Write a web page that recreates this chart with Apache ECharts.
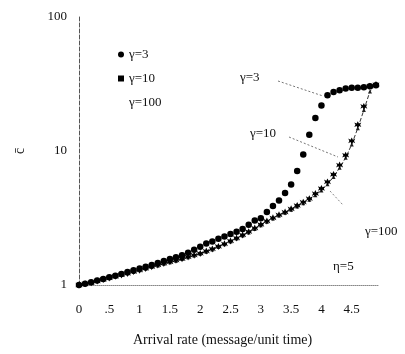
<!DOCTYPE html>
<html>
<head>
<meta charset="utf-8">
<script src="https://cdn.jsdelivr.net/npm/echarts@6/dist/echarts.min.js"></script>
<style>
  html, body { margin: 0; padding: 0; background: #fff; }
  #chart { width: 405px; height: 354px; }
</style>
</head>
<body>
<div id="chart"></div>
<script>
// arrival rate (message/unit time)
const rates = [0, 0.1, 0.2, 0.3, 0.4, 0.5, 0.6, 0.7, 0.8, 0.9,
  1.0, 1.1, 1.2, 1.3, 1.4, 1.5, 1.6, 1.7, 1.8, 1.9,
  2.0, 2.1, 2.2, 2.3, 2.4, 2.5, 2.6, 2.7, 2.8, 2.9,
  3.0, 3.1, 3.2, 3.3, 3.4, 3.5, 3.6, 3.7, 3.8, 3.9,
  4.0, 4.1, 4.2, 4.3, 4.4, 4.5, 4.6, 4.7, 4.8, 4.9];

// mean cost c̄ (log scale)
const gamma3 = [1.00, 1.02, 1.05, 1.08, 1.11, 1.14, 1.17, 1.21, 1.25, 1.29,
  1.33, 1.37, 1.41, 1.46, 1.51, 1.56, 1.61, 1.67, 1.74, 1.83,
  1.93, 2.04, 2.11, 2.21, 2.30, 2.40, 2.50, 2.62, 2.81, 3.03,
  3.15, 3.50, 3.88, 4.28, 4.86, 5.62, 7.1, 9.4, 13.2, 17.6,
  21.9, 26.1, 27.6, 28.4, 29.3, 29.6, 29.6, 29.9, 30.4, 31.0];
const gamma10 = [1.00, 1.02, 1.04, 1.07, 1.10, 1.13, 1.16, 1.19, 1.22, 1.26,
  1.29, 1.33, 1.37, 1.41, 1.45, 1.49, 1.53, 1.57, 1.62, 1.67,
  1.72, 1.79, 1.86, 1.94, 2.03, 2.13, 2.24, 2.36, 2.50, 2.66,
  2.83, 3.00, 3.17, 3.34, 3.50, 3.70, 3.92, 4.15, 4.41, 4.81,
  5.25, 5.88, 6.68, 7.85, 9.3, 11.9, 15.7, 21.5, 30.4, 31.2];
const gamma100 = [1.00, 1.02, 1.04, 1.07, 1.10, 1.13, 1.16, 1.19, 1.22, 1.25,
  1.29, 1.32, 1.36, 1.40, 1.44, 1.48, 1.52, 1.56, 1.61, 1.66,
  1.71, 1.77, 1.84, 1.92, 2.01, 2.11, 2.22, 2.34, 2.47, 2.62,
  2.79, 2.96, 3.13, 3.30, 3.46, 3.65, 3.86, 4.08, 4.33, 4.68,
  5.08, 5.65, 6.40, 7.50, 8.9, 11.2, 14.8, 20.2, 27.8, 32.0];

const seriesNames = ['γ=3', 'γ=10', 'γ=100'];
const xTickLabels = { 0: '0', 0.5: '.5', 1: '1', 1.5: '1.5', 2: '2', 2.5: '2.5', 3: '3', 3.5: '3.5', 4: '4', 4.5: '4.5' };

const FONT = 'Liberation Serif';
const INK = '#111';

// 星号方块标记
const STAR = 'path://M3,0 L4,2 L6,1 L5,3 L6,5 L4,4 L3,6 L2,4 L0,5 L1,3 L0,1 L2,2 Z';

const pair = (ys) => rates.map((x, i) => [x, ys[i]]);

const chart = echarts.init(document.getElementById('chart'));

const option = {
  animation: false,
  backgroundColor: '#fff',
  textStyle: { fontFamily: FONT, color: INK },
  grid: { left: 79, top: 17, width: 300, height: 268, containLabel: false },
  legend: {
    orient: 'vertical',
    left: 113,
    top: 43,
    itemWidth: 6,
    itemHeight: 6,
    itemGap: 11,
    textStyle: { fontFamily: FONT, fontSize: 13, color: INK },
    data: [
      { name: seriesNames[0], icon: 'circle' },
      { name: seriesNames[1], icon: 'rect' },
      { name: seriesNames[2], icon: 'none' },
    ],
  },
  xAxis: {
    type: 'value',
    min: 0,
    max: 4.95,
    interval: 0.5,
    axisLine: { lineStyle: { color: '#888', type: 'dotted', width: 1 } },
    axisTick: { show: false },
    splitLine: { show: false },
    axisLabel: {
      margin: 18,
      fontFamily: FONT,
      fontSize: 13,
      color: INK,
      showMaxLabel: false,
      formatter: (v) => xTickLabels[v] ?? '',
    },
  },
  yAxis: {
    type: 'log',
    logBase: 10,
    min: 1,
    max: 100,
    name: 'c\u0304',
    nameLocation: 'middle',
    nameRotate: 90,
    nameGap: 52,
    nameTextStyle: { fontFamily: FONT, fontSize: 14, color: INK },
    axisLine: { lineStyle: { color: '#555', type: 'dashed', width: 1 } },
    axisTick: { show: false },
    splitLine: { show: false },
    minorTick: { show: false },
    axisLabel: { margin: 12, fontFamily: FONT, fontSize: 13, color: INK },
  },
  series: [
    {
      name: seriesNames[2],
      type: 'line',
      data: pair(gamma100),
      symbol: 'triangle',
      symbolSize: 4,
      itemStyle: { color: '#222' },
      lineStyle: { color: '#333', width: 1, type: 'dashed' },
      z: 2,
    },
    {
      name: seriesNames[1],
      type: 'line',
      data: pair(gamma10),
      symbol: STAR,
      symbolSize: 7,
      itemStyle: { color: '#000' },
      lineStyle: { width: 0 },
      z: 3,
    },
    {
      name: seriesNames[0],
      type: 'line',
      data: pair(gamma3),
      symbol: 'circle',
      symbolSize: 6.5,
      itemStyle: { color: '#000' },
      lineStyle: { width: 0 },
      z: 4,
    },
  ],
  graphic: [
    // 曲线标注
    { type: 'text', left: 240, top: 71, style: { text: 'γ=3', font: `13px "${FONT}"`, fill: INK } },
    { type: 'line', shape: { x1: 278, y1: 81, x2: 323, y2: 96 }, style: { stroke: '#777', lineWidth: 1, lineDash: [2, 2] } },
    { type: 'text', left: 250, top: 127, style: { text: 'γ=10', font: `13px "${FONT}"`, fill: INK } },
    { type: 'line', shape: { x1: 289, y1: 137, x2: 338, y2: 157 }, style: { stroke: '#777', lineWidth: 1, lineDash: [2, 2] } },
    { type: 'text', left: 365, top: 225, style: { text: 'γ=100', font: `13px "${FONT}"`, fill: INK } },
    { type: 'line', shape: { x1: 330, y1: 191, x2: 343, y2: 205 }, style: { stroke: '#888', lineWidth: 1, lineDash: [2, 2] } },
    { type: 'text', left: 333, top: 260, style: { text: 'η=5', font: `13px "${FONT}"`, fill: INK } },
    // 横轴标题
    { type: 'text', left: 133, top: 333, style: { text: 'Arrival rate (message/unit time)', font: `14px "${FONT}"`, fill: INK } },
  ],
};

chart.setOption(option);
</script>
</body>
</html>
